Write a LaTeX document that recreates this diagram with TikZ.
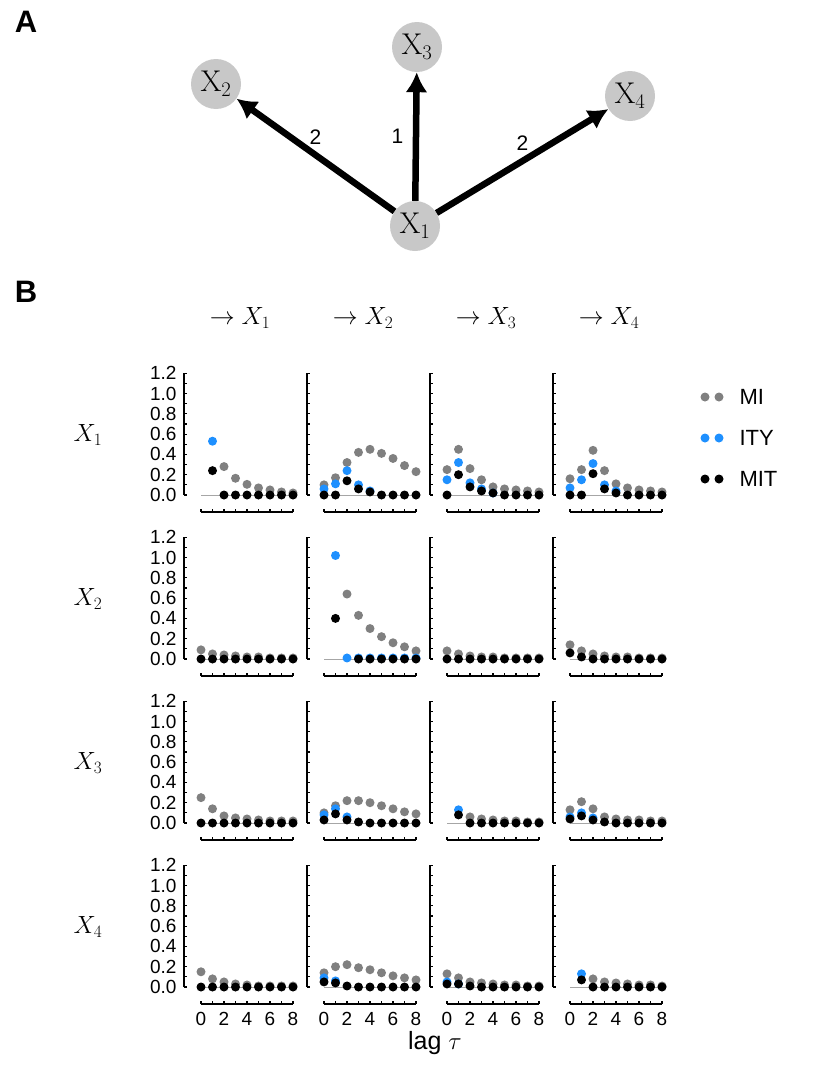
\documentclass[tikz,border=0pt]{standalone}
\usepackage{fontspec}
\setsansfont{Liberation Sans}
\definecolor{migray}{RGB}{128,128,128}
\definecolor{ityblue}{RGB}{30,144,255}
\definecolor{nodegray}{RGB}{200,200,200}
\tikzset{
  var/.style={circle, fill=nodegray, draw=none, minimum size=50pt, inner sep=0pt, font=\fontsize{30}{30}\selectfont},
  link/.style={line width=6.5pt, -{Latex[length=20pt,width=22pt]}},
  wlabel/.style={font=\sffamily\fontsize{21}{21}\selectfont},
  ticklab/.style={font=\sffamily\fontsize{19}{19}\selectfont},
  axis/.style={line width=1.1pt}
}
\usetikzlibrary{arrows.meta}
% one dot: column, row, lag, value, colour
\newcommand{\pdot}[5]{\fill[#5] ({201+123*#1+11.5*#3},{495+164*#2-101.5*#4}) circle (4.5);}
\newcommand{\series}[4]{\foreach \l/\v in {#4} {\pdot{#1}{#2}{\l}{\v}{#3}}}
\begin{document}
\begin{tikzpicture}[x=1pt,y=-1pt]
\useasboundingbox (0,0) rectangle (830,1068);
\node[font=\sffamily\bfseries\fontsize{31}{31}\selectfont] (lblA) at (26,22) {A};
\node[font=\sffamily\bfseries\fontsize{31}{31}\selectfont] (lblB) at (26,292) {B};
% part A
\node[var] (x1) at (415,226) {X$_1$};
\node[var] (x2) at (216,84) {X$_2$};
\node[var] (x3) at (417,47) {X$_3$};
\node[var] (x4) at (630,96) {X$_4$};
\draw[link] (x1) -- (x2) node[wlabel, midway, above=4pt] {2};
\draw[link] (x1) -- (x3) node[wlabel, midway, left=6pt] {1};
\draw[link] (x1) -- (x4) node[wlabel, midway, above=4pt] {2};
% part B: headers and row labels
\foreach \c in {1,...,4} {
  \node[font=\fontsize{27}{27}\selectfont] (head\c) at ({240+123*(\c-1)},318) {$\rightarrow X_{\c}$};
  \node[font=\fontsize{27}{27}\selectfont] (row\c) at (88,{435+164*(\c-1)}) {$X_{\c}$};
}
% axes
\foreach \c in {0,...,3} {
  \foreach \r in {0,...,3} {
    \draw[axis] ({184+123*\c},{495+164*\r}) -- ({184+123*\c},{373+164*\r});
    \foreach \t in {0,...,12} \draw[axis] ({184+123*\c},{495+164*\r-10.15*\t}) -- ++(3,0);
    \draw[axis] ({201+123*\c},{512+164*\r}) -- ({293+123*\c},{512+164*\r});
    \foreach \t in {0,...,8} \draw[axis] ({201+123*\c+11.5*\t},{512+164*\r}) -- ++(0,-3);
    \draw[migray!70, line width=0.7pt] ({201+123*\c},{495+164*\r}) -- ({293+123*\c},{495+164*\r});
  }
}
\foreach \r in {0,...,3} {
  \foreach \t/\s in {0/0.0,2/0.2,4/0.4,6/0.6,8/0.8,10/1.0,12/1.2}
    \node[ticklab, anchor=east] at (180,{495+164*\r-10.15*\t}) {\s};
}
\foreach \c in {0,...,3} {
  \foreach \t in {0,2,...,8}
    \node[ticklab] at ({201+123*\c+11.5*\t},1019) {\t};
}
\node[font=\sffamily\fontsize{25}{25}\selectfont] (lag) at (435,1043) {lag $\tau$};
% row X1
\series{0}{0}{migray}{2/0.28,3/0.165,4/0.105,5/0.07,6/0.05,7/0.03,8/0.02}
\series{0}{0}{ityblue}{1/0.53}
\series{0}{0}{black}{1/0.24,2/0,3/0,4/0,5/0,6/0,7/0,8/0}
\series{1}{0}{migray}{0/0.10,1/0.17,2/0.32,3/0.42,4/0.45,5/0.41,6/0.36,7/0.29,8/0.23}
\series{1}{0}{ityblue}{0/0.06,1/0.11,2/0.24,3/0.10,4/0.04}
\series{1}{0}{black}{0/0,1/0,2/0.14,3/0.06,4/0.03,5/0,6/0,7/0,8/0}
\series{2}{0}{migray}{0/0.25,1/0.45,2/0.26,3/0.15,4/0.08,5/0.06,6/0.05,7/0.04,8/0.03}
\series{2}{0}{ityblue}{0/0.15,1/0.32,2/0.12,3/0.06,4/0.02}
\series{2}{0}{black}{0/0,1/0.20,2/0.08,3/0.04,4/0.02,5/0,6/0,7/0,8/0}
\series{3}{0}{migray}{0/0.16,1/0.25,2/0.44,3/0.24,4/0.11,5/0.07,6/0.05,7/0.04,8/0.03}
\series{3}{0}{ityblue}{0/0.07,1/0.15,2/0.31,3/0.10,4/0.04}
\series{3}{0}{black}{0/0,1/0,2/0.21,3/0.06,4/0.02,5/0,6/0,7/0,8/0}
% row X2
\series{0}{1}{migray}{0/0.09,1/0.05,2/0.04,3/0.03,4/0.02,5/0.02,6/0.01,7/0.01,8/0.01}
\series{0}{1}{black}{0/0,1/0,2/0,3/0,4/0,5/0,6/0,7/0,8/0}
\series{1}{1}{migray}{2/0.64,3/0.43,4/0.30,5/0.22,6/0.16,7/0.12,8/0.08}
\series{1}{1}{ityblue}{1/1.02,2/0.01,3/0.01,4/0.01,5/0.01,6/0.01,7/0.01,8/0.01}
\series{1}{1}{black}{1/0.40,3/0,4/0,5/0,6/0,7/0,8/0}
\series{2}{1}{migray}{0/0.08,1/0.05,2/0.03,3/0.02,4/0.02,5/0.01,6/0.01,7/0.01,8/0.01}
\series{2}{1}{black}{0/0,1/0,2/0,3/0,4/0,5/0,6/0,7/0,8/0}
\series{3}{1}{migray}{0/0.14,1/0.08,2/0.05,3/0.03,4/0.02,5/0.02,6/0.01,7/0.01,8/0.01}
\series{3}{1}{black}{0/0.06,1/0.02,2/0,3/0,4/0,5/0,6/0,7/0,8/0}
% row X3
\series{0}{2}{migray}{0/0.25,1/0.14,2/0.07,3/0.05,4/0.04,5/0.03,6/0.02,7/0.02,8/0.02}
\series{0}{2}{black}{0/0,1/0,2/0,3/0,4/0,5/0,6/0,7/0,8/0}
\series{1}{2}{migray}{0/0.10,1/0.17,2/0.22,3/0.22,4/0.20,5/0.17,6/0.14,7/0.11,8/0.09}
\series{1}{2}{ityblue}{0/0.08,1/0.14,2/0.06}
\series{1}{2}{black}{0/0.03,1/0.09,2/0.03,3/0.01,4/0,5/0,6/0,7/0,8/0}
\series{2}{2}{migray}{2/0.06,3/0.04,4/0.03,5/0.02,6/0.02,7/0.01,8/0.01}
\series{2}{2}{ityblue}{1/0.13}
\series{2}{2}{black}{1/0.08,2/0,3/0,4/0,5/0,6/0,7/0,8/0}
\series{3}{2}{migray}{0/0.13,1/0.21,2/0.14,3/0.06,4/0.04,5/0.03,6/0.03,7/0.02,8/0.02}
\series{3}{2}{ityblue}{0/0.06,1/0.10,2/0.05}
\series{3}{2}{black}{0/0.04,1/0.07,2/0.03,3/0.01,4/0,5/0,6/0,7/0,8/0}
% row X4
\series{0}{3}{migray}{0/0.15,1/0.08,2/0.05,3/0.03,4/0.02,5/0.01,6/0.01,7/0.01,8/0.01}
\series{0}{3}{black}{0/0,1/0,2/0,3/0,4/0,5/0,6/0,7/0,8/0}
\series{1}{3}{migray}{0/0.14,1/0.20,2/0.22,3/0.19,4/0.17,5/0.14,6/0.11,7/0.09,8/0.07}
\series{1}{3}{ityblue}{0/0.09,1/0.06}
\series{1}{3}{black}{0/0.05,1/0.04,2/0.01,3/0,4/0,5/0,6/0,7/0,8/0}
\series{2}{3}{migray}{0/0.13,1/0.09,2/0.05,3/0.04,4/0.03,5/0.02,6/0.02,7/0.01,8/0.01}
\series{2}{3}{ityblue}{0/0.05,1/0.03}
\series{2}{3}{black}{0/0.03,1/0.03,2/0.01,3/0,4/0,5/0,6/0,7/0,8/0}
\series{3}{3}{migray}{2/0.08,3/0.05,4/0.04,5/0.03,6/0.02,7/0.02,8/0.01}
\series{3}{3}{ityblue}{1/0.13}
\series{3}{3}{black}{1/0.07,2/0,3/0,4/0,5/0,6/0,7/0,8/0}
% legend
\foreach \k/\col/\txt in {0/migray/MI,1/ityblue/ITY,2/black/MIT} {
  \fill[\col] (705,{397+41*\k}) circle (4.5);
  \fill[\col] (719,{397+41*\k}) circle (4.5);
  \node[font=\sffamily\fontsize{22}{22}\selectfont, anchor=west] (leg\k) at (736,{397+41*\k}) {\txt};
}
\end{tikzpicture}
\end{document}
